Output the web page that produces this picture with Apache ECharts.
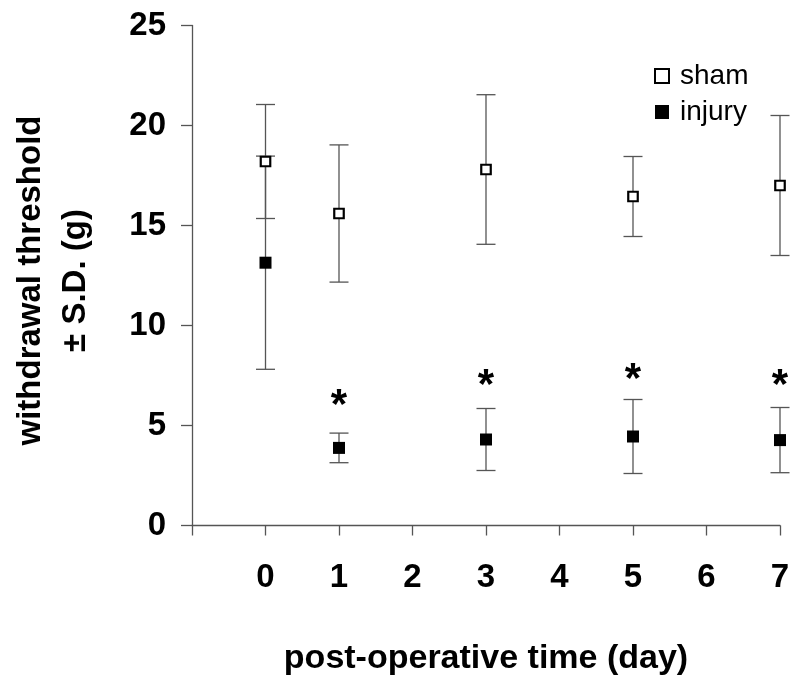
<!DOCTYPE html>
<html>
<head>
<meta charset="utf-8">
<script src="https://cdn.jsdelivr.net/npm/echarts@6/dist/echarts.min.js"></script>
<style>html,body{margin:0;padding:0;background:#fff}#c{width:800px;height:687px}</style>
</head>
<body>
<div id="c"></div>
<script>
var days = [0, 1, 3, 5, 7];
var shamMean = [18.2, 15.6, 17.8, 16.45, 17.0];
var shamSD = [2.85, 3.43, 3.74, 2.0, 3.5];
var injuryMean = [13.14, 3.88, 4.3, 4.45, 4.27];
var injurySD = [5.33, 0.74, 1.55, 1.85, 1.63];
var starDays = [1, 3, 5, 7];
var starLevels = [6.4, 7.4, 7.7, 7.4];
var yTicks = [0, 5, 10, 15, 20, 25];
var xTicks = [0, 1, 2, 3, 4, 5, 6, 7];

var FONT = '"Liberation Sans", Arial, sans-serif';
var AXC = '#555';

function pts(m) { return days.map(function (d, i) { return [d, m[i]]; }); }
function bars(m, sd) { return days.map(function (d, i) { return [d, m[i] - sd[i], m[i] + sd[i]]; }); }

function errRender(params, api) {
  var x = api.value(0);
  var lo = api.coord([x, api.value(1)]);
  var hi = api.coord([x, api.value(2)]);
  var w = 9.5;
  var st = { stroke: '#555', lineWidth: 1.3 };
  return {
    type: 'group',
    children: [
      { type: 'line', shape: { x1: lo[0], y1: lo[1], x2: hi[0], y2: hi[1] }, style: st },
      { type: 'line', shape: { x1: lo[0] - w, y1: lo[1], x2: lo[0] + w, y2: lo[1] }, style: st },
      { type: 'line', shape: { x1: hi[0] - w, y1: hi[1], x2: hi[0] + w, y2: hi[1] }, style: st }
    ]
  };
}

function starRender(params, api) {
  var p = api.coord([api.value(0), api.value(1)]);
  return {
    type: 'text',
    x: p[0], y: p[1] + 9,
    style: { text: '*', fontSize: 42, fontWeight: 'bold', fontFamily: FONT, fill: '#000', align: 'center', verticalAlign: 'middle' }
  };
}

var chart = echarts.init(document.getElementById('c'), null, { renderer: 'canvas' });
chart.setOption({
  animation: false,
  backgroundColor: '#fff',
  grid: { left: 189, right: 20, top: 25.5, bottom: 161.5, containLabel: false },
  legend: {
    data: ['sham', 'injury'],
    orient: 'vertical',
    left: 649, top: 57,
    itemWidth: 14, itemHeight: 14, itemGap: 8,
    textStyle: { fontSize: 28, fontFamily: FONT, color: '#000', padding: [0, 0, 0, 6] }
  },
  xAxis: {
    type: 'value', min: -1, max: 7, interval: 1,
    name: 'post-operative time (day)', nameLocation: 'middle', nameGap: 116,
    nameTextStyle: { fontSize: 34, fontWeight: 'bold', fontFamily: FONT, color: '#000' },
    axisLine: { onZero: false, lineStyle: { color: AXC, width: 1.3 } },
    axisTick: { show: true, length: 10, lineStyle: { color: AXC, width: 1.3 } },
    splitLine: { show: false },
    axisLabel: {
      margin: 36, fontSize: 33, fontWeight: 'bold', fontFamily: FONT, color: '#000',
      formatter: function (v) { return xTicks.indexOf(v) >= 0 ? String(v) : ''; }
    }
  },
  yAxis: {
    type: 'value', min: 0, max: 25, interval: 5,
    name: 'withdrawal threshold\n± S.D. (g)', nameLocation: 'middle', nameRotate: 90, nameGap: 94,
    nameTextStyle: { fontSize: 33, fontWeight: 'bold', fontFamily: FONT, color: '#000', lineHeight: 45, padding: [0, 10, 0, 0] },
    axisLine: { show: true, onZero: false, lineStyle: { color: AXC, width: 1.3 } },
    axisTick: { show: true, length: 11, lineStyle: { color: AXC, width: 1.3 } },
    splitLine: { show: false },
    axisLabel: {
      margin: 26, fontSize: 33, fontWeight: 'bold', fontFamily: FONT, color: '#000',
      formatter: function (v) { return yTicks.indexOf(v) >= 0 ? String(v) : ''; }
    }
  },
  series: [
    { name: 'shamErr', type: 'custom', renderItem: errRender, data: bars(shamMean, shamSD), z: 1, silent: true },
    { name: 'injuryErr', type: 'custom', renderItem: errRender, data: bars(injuryMean, injurySD), z: 1, silent: true },
    {
      name: 'sham', type: 'scatter', data: pts(shamMean), symbol: 'rect', symbolSize: 9.5, z: 5,
      itemStyle: { color: '#fff', borderColor: '#000', borderWidth: 2.2, opacity: 1 }
    },
    {
      name: 'injury', type: 'scatter', data: pts(injuryMean), symbol: 'rect', symbolSize: 12, z: 5,
      itemStyle: { color: '#000', opacity: 1 }
    },
    {
      name: 'stars', type: 'custom', renderItem: starRender, z: 6, silent: true,
      data: starDays.map(function (d, i) { return [d, starLevels[i]]; })
    }
  ]
});
</script>
</body>
</html>
